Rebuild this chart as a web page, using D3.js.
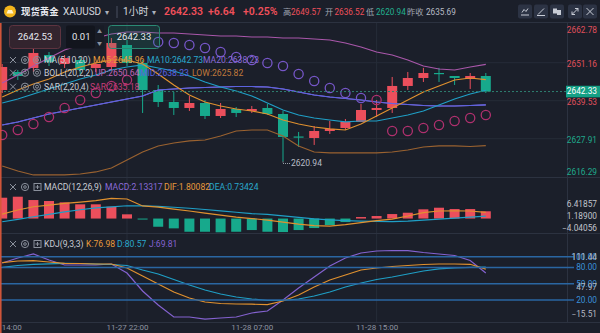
<!DOCTYPE html>
<html><head><meta charset="utf-8">
<script src="https://cdn.jsdelivr.net/npm/d3@7"></script>
<style>
html,body{margin:0;padding:0;background:#1b1f2a;}
svg{display:block;font-family:Roboto,"Noto Sans CJK SC",sans-serif;}
</style></head>
<body><svg id="c" width="600" height="333"></svg>
<script>
// ---------------- DATA ----------------
const times = ["11-27 14:00","11-27 15:00","11-27 16:00","11-27 17:00","11-27 18:00","11-27 19:00","11-27 20:00","11-27 21:00","11-27 22:00","11-27 23:00",
"11-28 00:00","11-28 01:00","11-28 02:00","11-28 03:00","11-28 04:00","11-28 05:00",
"11-28 07:00","11-28 08:00","11-28 09:00","11-28 10:00","11-28 11:00","11-28 12:00","11-28 13:00","11-28 14:00","11-28 15:00","11-28 16:00","11-28 17:00","11-28 18:00","11-28 19:00","11-28 20:00","11-28 21:00","11-28 22:00"];
const tickTimes = ["11-27 14:00","11-27 22:00","11-28 07:00","11-28 15:00"];
const tickLabels = ["14:00","11-27 22:00","11-28 07:00","11-28 15:00"];
const gridTimes = ["11-27 22:00","11-28 15:00"];

const open  = [2642.81,2648.32,2649.54,2653.51,2650.76,2651.99,2649.54,2649.84,2656.57,2651.07,2642.81,2639.14,2637.31,2638.83,2634.86,2637.00,2636.39,2637.31,2635.47,2628.59,2628.13,2630.27,2631.19,2633.03,2636.69,2637.31,2644.04,2646.48,2648.01,2647.09,2646.18,2647.09];
const high  = [2650.76,2648.93,2655.35,2654.43,2653.51,2652.90,2651.37,2658.71,2658.10,2651.99,2644.34,2642.20,2640.97,2639.75,2638.83,2637.61,2637.92,2638.53,2636.39,2629.97,2631.80,2633.33,2633.94,2638.53,2639.75,2646.79,2648.32,2649.57,2649.57,2647.09,2648.01,2648.01];
const low   = [2641.89,2645.87,2648.32,2650.15,2649.54,2647.70,2648.32,2648.93,2650.15,2635.78,2637.61,2635.17,2636.39,2633.94,2634.25,2634.55,2635.78,2635.17,2620.94,2625.38,2626.00,2629.36,2630.58,2633.03,2634.55,2635.78,2642.81,2645.26,2645.26,2644.34,2643.12,2641.89];
const close = [2649.84,2647.09,2654.13,2651.37,2652.60,2648.93,2650.76,2657.18,2651.07,2642.81,2639.14,2637.31,2638.83,2634.86,2637.00,2635.78,2637.00,2635.47,2628.44,2628.29,2630.27,2630.89,2633.03,2636.69,2637.31,2644.04,2646.48,2648.01,2647.70,2646.48,2647.09,2642.33];

const ma5  = [2640.67,2642.81,2644.65,2646.18,2648.32,2649.84,2651.07,2651.99,2651.99,2650.76,2647.70,2644.34,2641.28,2639.14,2637.92,2637.00,2636.39,2635.47,2633.64,2632.41,2631.50,2630.89,2630.58,2632.41,2634.86,2637.31,2639.75,2642.20,2644.03,2645.87,2646.48,2645.96];
const ma10 = [2638.84,2640.06,2641.59,2643.12,2644.65,2646.18,2647.40,2648.93,2649.84,2650.46,2649.54,2648.62,2647.09,2645.26,2643.73,2642.51,2640.98,2638.84,2636.70,2635.17,2634.25,2633.64,2633.03,2633.33,2633.33,2634.25,2635.17,2636.39,2638.22,2640.06,2641.59,2642.73];
const bollMid = [2632.11,2633.03,2634.25,2635.47,2636.39,2637.31,2638.22,2639.14,2640.06,2640.98,2642.81,2643.12,2643.42,2643.58,2643.73,2643.88,2643.88,2643.73,2643.12,2642.20,2641.28,2640.67,2640.21,2639.75,2639.14,2638.68,2638.38,2638.07,2637.92,2637.92,2638.07,2638.23];
const ma20 = bollMid.slice();
const bollUp  = [2644.95,2647.40,2650.15,2652.60,2655.04,2656.57,2658.71,2659.94,2660.55,2660.55,2660.24,2660.24,2659.94,2659.63,2659.33,2659.33,2659.02,2659.02,2658.71,2658.71,2658.41,2658.10,2657.18,2655.96,2654.43,2653.51,2651.99,2650.15,2649.23,2648.93,2649.84,2650.64];
const bollLow = [2619.57,2618.04,2616.82,2616.82,2616.82,2617.12,2617.74,2618.96,2621.40,2623.85,2625.69,2626.60,2627.22,2627.52,2628.74,2630.27,2630.58,2630.58,2628.74,2625.69,2623.85,2623.55,2623.55,2623.55,2623.55,2623.85,2624.46,2625.38,2625.69,2625.69,2625.53,2625.82];
const sar = [2629.05,2630.58,2632.41,2634.55,2637.31,2639.75,2641.89,2644.03,2645.87,null,2657.49,2657.18,2656.57,2655.66,2654.43,2652.90,2651.99,2651.07,2650.15,2647.70,2645.56,2643.42,2641.89,2640.37,2639.75,2630.27,2630.27,2631.19,2632.11,2633.33,2634.25,2635.18];

const macdHist = [6.12,6.41857,5.44,5.15,4.76,4.18,4.18,3.47,1.24,-0.15,-2.41,-2.88,-3.88,-3.88,-4.04056,-3.88,-3.38,-3.88,-3.97,-3.38,-2.79,-1.91,-1.03,0.44,0.74,1.32,1.71,2.71,3.18,2.79,2.79,2.13317];
const dif = [1.32,2.50,3.47,3.97,4.47,4.85,5.29,5.94,5.74,3.70,3.38,2.79,2.21,1.62,1.03,0.44,0.00,-0.44,-1.03,-1.62,-2.06,-2.21,-1.76,-1.18,-0.59,-0.15,0.74,1.76,2.21,2.26,2.21,1.80082];
const dea = [-0.94,-0.24,0.53,1.24,1.97,2.59,3.12,3.44,3.76,3.74,3.59,3.32,3.03,2.65,2.26,1.85,1.44,1.24,0.79,0.35,-0.09,-0.38,-0.59,-0.74,-0.82,-0.88,-0.74,-0.44,-0.15,0.15,0.44,0.73424];
const macdTicks = [6.41857,1.18900,-4.04056];

const kVal = [88.91,92.05,92.61,90.20,87.80,87.43,86.51,86.51,79.11,64.33,49.54,34.75,23.66,16.27,13.49,12.57,12.20,11.46,18.11,29.21,43.99,56.93,66.17,75.42,79.11,81.89,83.73,85.58,86.51,86.51,85.95,76.98];
const dVal = [80.41,83.73,85.95,86.88,87.80,87.43,86.51,85.58,83.73,75.42,68.02,57.86,47.69,38.45,31.05,25.51,21.81,19.04,19.04,21.81,27.36,34.75,43.99,51.39,57.86,62.48,68.02,73.57,77.63,79.11,80.30,80.57];
const jVal = [88.35,97.60,104.99,93.90,84.66,84.66,84.66,86.51,69.87,36.60,10.72,-11.46,-11.46,-15.51,-13.31,-11.46,-4.07,-0.37,19.96,42.14,62.48,82.81,97.60,106.84,110.54,111.44,111.20,107.76,104.99,102.22,92.98,69.81];
const kdjLevels = [100,80,50,20];
const kdjTicks = [111.44,47.97,-15.51];

const priceTicks = [2662.78,2651.16,2639.53,2627.91,2616.29];
const prevClose = 2635.69;
const infoLabels = ["高","开","低","昨收"];
const infoValues = [2649.57,2636.52,2620.94,2635.69];
const priceChange = 6.64, pctChange = 0.25;

// ---------------- SETUP ----------------
const svg = d3.select("#c");
const RED="#ec4f5c", GREEN="#17a98c", ORANGE="#e0912f", CYAN="#1f9fc6", PURPLE="#8a6bd8", BLUEV="#5c63e0";
const plotR = 567;
const x = d3.scalePoint().domain(times).range([2.2, 485.8]);
const y = d3.scaleLinear().domain([2616.29, 2662.78]).range([176.7, 24.7]);
const ym = d3.scaleLinear().domain([-4.04056, 6.41857]).range([232.3, 196.7]);
const yk = d3.scaleLinear().domain([-15.51, 111.44]).range([319.2, 250.5]);

svg.append("rect").attr("width",600).attr("height",333).attr("fill","#1b1f2a");
const defs = svg.append("defs");
[["cm",22,155.5],["cd",178,55],["ck",234,88]].forEach(([id,t,h])=>{
  defs.append("clipPath").attr("id",id).append("rect").attr("x",0).attr("y",t).attr("width",plotR).attr("height",h);
});

const grid = svg.append("g");
gridTimes.forEach(t=>{
  grid.append("line").attr("x1",x(t)).attr("x2",x(t)).attr("y1",22).attr("y2",322).attr("stroke","#262c38").attr("stroke-width",1);
});
priceTicks.slice(1,4).forEach(p=>{
  grid.append("line").attr("x1",0).attr("x2",plotR).attr("y1",y(p)).attr("y2",y(p)).attr("stroke","#262c38");
});
[22.5,177.5,233.5,322.5].forEach(v=>svg.append("line").attr("x1",0).attr("x2",600).attr("y1",v).attr("y2",v).attr("stroke","#2c3240"));
svg.append("line").attr("x1",plotR+0.5).attr("x2",plotR+0.5).attr("y1",22).attr("y2",322).attr("stroke","#2c3240");

// ---------------- MAIN PANE ----------------
const gm = svg.append("g").attr("clip-path","url(#cm)");
const idx = d3.range(times.length);
idx.forEach(i=>{
  const up = close[i] >= open[i];
  const c = up ? RED : GREEN;
  const cx = x(times[i]);
  gm.append("line").attr("x1",cx).attr("x2",cx).attr("y1",y(high[i])).attr("y2",y(low[i])).attr("stroke",c).attr("stroke-width",1);
  const top = y(Math.max(open[i],close[i])), bot = y(Math.min(open[i],close[i]));
  gm.append("rect").attr("x",cx-5).attr("width",10).attr("y",top).attr("height",Math.max(1.2,bot-top)).attr("fill",c);
});
const lineP = d3.line().defined(d=>d!=null).x((d,i)=>x(times[i])).y(d=>y(d));
[[bollUp,"#a957aa"],[bollLow,"#9a6230"],[ma20,PURPLE],[bollMid,BLUEV],[ma10,CYAN],[ma5,ORANGE]].forEach(([arr,c])=>{
  gm.append("path").attr("d",lineP(arr)).attr("fill","none").attr("stroke",c).attr("stroke-width",1.2);
});
idx.forEach(i=>{
  if(sar[i]==null) return;
  const above = sar[i] > high[i];
  gm.append("circle").attr("cx",x(times[i])).attr("cy",y(sar[i])).attr("r",4.6)
    .attr("fill","none").attr("stroke",above?"#7656c8":"#b0306e").attr("stroke-width",1.3);
});
const last = close[close.length-1];
svg.append("line").attr("x1",0).attr("x2",plotR).attr("y1",y(last)).attr("y2",y(last))
  .attr("stroke","#2f7f70").attr("stroke-dasharray","2,2");
const li = low.indexOf(d3.min(low));
const lx = x(times[li]), ly = y(low[li]);
svg.append("path").attr("d",`M${lx},${ly} V${ly+2} H${lx+7}`).attr("fill","none").attr("stroke","#9aa0aa").attr("stroke-dasharray","1,1");
svg.append("text").attr("x",lx+8).attr("y",ly+5).attr("font-size",8.5).attr("fill","#b8bcc6").text(d3.format(".2f")(low[li]));

// ---------------- MACD ----------------
const gd = svg.append("g").attr("clip-path","url(#cd)");
idx.forEach(i=>{
  const v = macdHist[i];
  const y0 = ym(0), y1 = ym(v);
  gd.append("rect").attr("x",x(times[i])-5).attr("width",10)
    .attr("y",Math.min(y0,y1)).attr("height",Math.max(1,Math.abs(y1-y0)))
    .attr("fill", v>=0 ? RED : GREEN);
});
const lineM = d3.line().x((d,i)=>x(times[i])).y(d=>ym(d));
[[dea,CYAN],[dif,ORANGE]].forEach(([arr,c])=>gd.append("path").attr("d",lineM(arr)).attr("fill","none").attr("stroke",c).attr("stroke-width",1.2));

// ---------------- KDJ ----------------
const gk = svg.append("g").attr("clip-path","url(#ck)");
kdjLevels.forEach(l=>svg.append("line").attr("x1",0).attr("x2",574).attr("y1",yk(l)).attr("y2",yk(l)).attr("stroke","#2a66a2").attr("stroke-width",1.6));
const lineK = d3.line().x((d,i)=>x(times[i])).y(d=>yk(d));
[[jVal,"#8462d0"],[dVal,CYAN],[kVal,ORANGE]].forEach(([arr,c])=>gk.append("path").attr("d",lineK(arr)).attr("fill","none").attr("stroke",c).attr("stroke-width",1.2));

// ---------------- AXES LABELS ----------------
const fmt2 = d3.format(".2f"), fmt5 = d3.format(".5f");
priceTicks.forEach((p,k)=>{
  const dy = k===0 ? 5.5 : (k===priceTicks.length-1 ? -4.5 : 1);
  svg.append("text").attr("x",597).attr("y",y(p)+dy).attr("dy","0.35em").attr("text-anchor","end")
    .attr("font-size",8.3).attr("fill", p>prevClose?"#e0505c":"#1fa98c").text(fmt2(p));
});
svg.append("rect").attr("x",566).attr("y",y(last)-5.8).attr("width",34).attr("height",11.6).attr("fill","#14a085");
svg.append("text").attr("x",597).attr("y",y(last)).attr("dy","0.35em").attr("text-anchor","end").attr("font-size",8.3).attr("fill","#ffffff").text(fmt2(last));

macdTicks.forEach((v,k)=>{
  const dy = k===0 ? 7 : (k===2 ? -4 : 2);
  svg.append("text").attr("x",597).attr("y",ym(v)+dy).attr("dy","0.35em").attr("text-anchor","end")
    .attr("font-size",8.3).attr("fill","#c0c4cc").text(fmt5(v));
});
kdjLevels.forEach(l=>{
  svg.append("text").attr("x",597).attr("y",yk(l)).attr("dy","0.35em").attr("text-anchor","end")
    .attr("font-size",8.3).attr("fill","#3a8fd8").text(fmt2(l));
});
kdjTicks.forEach((v,k)=>{
  const dy = k===0 ? 7 : (k===2 ? -5 : 2);
  svg.append("text").attr("x",597).attr("y",yk(v)+dy).attr("dy","0.35em").attr("text-anchor","end")
    .attr("font-size",8.3).attr("fill","#b4b8c2").text(fmt2(v));
});
const xa = svg.append("g").attr("transform","translate(0,322)")
  .call(d3.axisBottom(x).tickValues(tickTimes).tickSize(0).tickPadding(2.5).tickFormat((d,i)=>tickLabels[i]));
xa.select(".domain").remove();
xa.selectAll("text").attr("font-size",8).attr("fill","#8e94a0").attr("font-family","Roboto,sans-serif");
xa.selectAll("text").filter((d,i)=>i===0).attr("text-anchor","start").attr("x",-1);

svg.append("line").attr("x1",0.8).attr("x2",0.8).attr("y1",23).attr("y2",333).attr("stroke","#d9583a").attr("stroke-width",1.5);

// ---------------- LEGENDS ----------------
function icons(yc, third){
  const g = svg.append("g").attr("stroke","#8a909c").attr("fill","none").attr("stroke-width",1);
  g.append("path").attr("d",`M10,${yc-3} L16,${yc+3} M16,${yc-3} L10,${yc+3}`);
  g.append("circle").attr("cx",25).attr("cy",yc).attr("r",3.6);
  g.append("circle").attr("cx",25).attr("cy",yc).attr("r",1.3);
  if(third==="gear"){
    g.append("circle").attr("cx",37).attr("cy",yc).attr("r",3.6);
    g.append("circle").attr("cx",37).attr("cy",yc).attr("r",1.5);
  } else {
    g.append("rect").attr("x",34).attr("y",yc-3.5).attr("width",7).attr("height",7);
    g.append("path").attr("d",`M37.5,${yc-2} V${yc+2} M35.5,${yc} H39.5`);
  }
}
function legend(yc, items){
  items.forEach(([tx,xx,c])=>svg.append("text").attr("x",xx).attr("y",yc).attr("dy","0.35em").attr("font-size",8.6).attr("fill",c).text(tx));
}
const L = arr=>arr[arr.length-1];
icons(60,"gear");
legend(60,[["MA(5,10,20)",44,"#c9ccd4"],["MA5:"+fmt2(L(ma5)),93,"#e89a3c"],["MA10:"+fmt2(L(ma10)),147,"#2aa8cc"],["MA20:"+fmt2(L(ma20)),203,PURPLE]]);
icons(72.7,"gear");
legend(72.7,[["BOLL(20,2,2)",44,"#c9ccd4"],["UP:"+fmt2(L(bollUp)),95,"#c065b8"],["MID:"+fmt2(L(bollMid)),140,BLUEV],["LOW:"+fmt2(L(bollLow)),192,"#c07a3c"]]);
icons(86.7,"gear");
legend(86.7,[["SAR(2,20,4)",44,"#c9ccd4"],["SAR:"+fmt2(L(sar)),90,"#c43d78"]]);
icons(187,"plus");
legend(187,[["MACD(12,26,9)",44,"#c9ccd4"],["MACD:"+fmt5(L(macdHist)),105,PURPLE],["DIF:"+fmt5(L(dif)),164,"#e89a3c"],["DEA:"+fmt5(L(dea)),209,"#2aa8cc"]]);
icons(244,"plus");
legend(244,[["KDJ(9,3,3)",44,"#c9ccd4"],["K:"+fmt2(L(kVal)),86,"#e89a3c"],["D:"+fmt2(L(dVal)),117,"#2aa8cc"],["J:"+fmt2(L(jVal)),149,"#8462d0"]]);

// ---------------- OVERLAY BOXES ----------------
svg.append("rect").attr("x",9.5).attr("y",25.5).attr("width",51).attr("height",23).attr("rx",3).attr("fill","#33242e").attr("stroke","#5e3440");
svg.append("text").attr("x",35).attr("y",37).attr("dy","0.35em").attr("text-anchor","middle").attr("font-size",9.5).attr("fill","#e6e8ee").text("2642.53");
svg.append("rect").attr("x",66).attr("y",25.5).attr("width",29).attr("height",23).attr("rx",2).attr("fill","#12151d");
svg.append("rect").attr("x",95).attr("y",25.5).attr("width",9).attr("height",23).attr("fill","#181c26");
svg.append("text").attr("x",72).attr("y",37).attr("dy","0.35em").attr("font-size",9.5).attr("fill","#e6e8ee").text("0.01");
svg.append("text").attr("x",99.5).attr("y",31).attr("dy","0.35em").attr("text-anchor","middle").attr("font-size",5).attr("fill","#8a909c").text("▲");
svg.append("text").attr("x",99.5).attr("y",43).attr("dy","0.35em").attr("text-anchor","middle").attr("font-size",5).attr("fill","#8a909c").text("▼");
svg.append("rect").attr("x",108.5).attr("y",25.5).attr("width",51).attr("height",23).attr("rx",3).attr("fill","rgba(30,150,120,0.18)").attr("stroke","#2b8a74");
svg.append("text").attr("x",134).attr("y",37).attr("dy","0.35em").attr("text-anchor","middle").attr("font-size",9.5).attr("fill","#e6e8ee").text("2642.33");

// ---------------- HEADER ----------------
svg.append("circle").attr("cx",10).attr("cy",11.5).attr("r",6).attr("fill","#f2b51c");
svg.append("path").attr("d","M6.5,13.5 L8,10 L12,10 L13.5,13.5 Z").attr("fill","#fff3c8");
const H = (tx,xx,size,c,w)=>svg.append("text").attr("x",xx).attr("y",11.8).attr("dy","0.35em").attr("font-size",size).attr("fill",c).attr("font-weight",w||400).text(tx);
H("现货黄金",21,9.4,"#e8eaf0",600);
H("XAUUSD",63,10,"#d4d7de");
H("▾",105,8,"#aab0bc");
svg.append("line").attr("x1",117).attr("x2",117).attr("y1",6).attr("y2",18).attr("stroke","#4a5060");
H("1小时",123,10,"#d4d7de");
H("▾",152,8,"#aab0bc");
H(fmt2(last),164,10.5,"#f0505a",600);
H("+"+fmt2(priceChange),208,10.5,"#f0505a",600);
H("+"+fmt2(pctChange)+"%",243,10.5,"#f0505a",600);
const infoX = [[283,291],[325,334.5],[366,376],[407,426]];
const infoCol = v => v>prevClose ? "#f0505a" : (v<prevClose ? "#22b08f" : "#b8bcc6");
infoLabels.forEach((lb,k)=>{
  H(lb,infoX[k][0],8.2,"#a0a6b2");
  H(fmt2(infoValues[k]),infoX[k][1],8.2,infoCol(infoValues[k]));
});
[518,534,550,568,583].forEach((bx,k)=>{
  svg.append("rect").attr("x",bx).attr("y",4.5).attr("width",14).attr("height",14).attr("rx",2).attr("fill","#2c3344");
  const g = svg.append("g").attr("stroke","#c8ccd6").attr("fill","none").attr("stroke-width",1);
  const cx = bx+7, cy = 11.5;
  if(k===0){ g.append("path").attr("d",`M${cx-4},${cy+3.5} H${cx+4} M${cx-3},${cy+1} L${cx-1},${cy-2} L${cx+1},${cy} L${cx+3},${cy-3}`); }
  if(k===1){ g.append("path").attr("d",`M${cx-3},${cy+3} L${cx+3},${cy-3} M${cx-4},${cy+4} H${cx+4}`); }
  if(k===2){ g.append("rect").attr("x",cx-3.5).attr("y",cy-2.5).attr("width",3).attr("height",4).attr("fill","#c8ccd6"); g.append("rect").attr("x",cx+0.5).attr("y",cy-1).attr("width",3).attr("height",4).attr("fill","#c8ccd6"); }
  if(k===3){ g.append("path").attr("d",`M${cx-3},${cy+3} L${cx+3},${cy-3} M${cx},${cy-3} H${cx+3} V${cy} M${cx-3},${cy} V${cy+3} H${cx}`); }
  if(k===4){ g.append("path").attr("d",`M${cx-3.5},${cy-3.5} L${cx+3.5},${cy+3.5} M${cx+3.5},${cy-3.5} L${cx-3.5},${cy+3.5}`); }
});
</script>
</body></html>
